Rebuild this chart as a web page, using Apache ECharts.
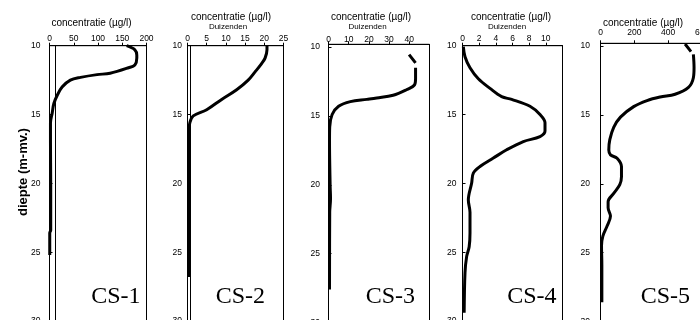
<!DOCTYPE html>
<html>
<head>
<meta charset="utf-8">
<script src="https://cdn.jsdelivr.net/npm/echarts@6/dist/echarts.min.js"></script>
<style>html,body{margin:0;padding:0;background:#fff}#c{width:700px;height:320px}</style>
</head>
<body>
<div id="c"></div>
<script>
// ---- data ----
const panelNames = ['CS-1', 'CS-2', 'CS-3', 'CS-4', 'CS-5'];
const xMax = [200, 25, 50, 12, 600];
const xStep = [50, 5, 10, 2, 200];
const yTicks = [10, 15, 20, 25, 30];
const axisTitle = 'concentratie (µg/l)';
const unitNote = 'Duizenden';
const depthTitle = 'diepte (m-mv.)';

const depth1 = [10.0, 10.3, 10.7, 10.9, 11.4, 11.6, 12.0, 12.1, 12.3, 12.5, 13.0, 13.6, 14.2, 14.9, 15.6, 17.0, 20.0, 23.4, 23.6, 25.2];
const conc1  = [159, 176, 180, 180, 176, 163, 125, 98, 64, 43, 26, 16, 9, 5.5, 2, 2, 2.5, 2.5, 0.5, 0.5];

const depth2 = [10.0, 10.3, 10.9, 11.3, 11.9, 12.5, 13.2, 13.9, 14.65, 15.1, 15.6, 16.3, 20.0, 26.8];
const conc2  = [20.7, 20.7, 20.2, 19.3, 17.6, 15.8, 12.8, 8.9, 5.0, 1.5, 0.6, 0.3, 0.4, 0.4];

const depth3 = [10.55, 11.15, null, 11.5, 12.3, 12.75, 13.1, 13.5, 13.7, 13.8, 13.96, 14.3, 14.9, 15.8, 16.8, 20.0, 21.0, 22.0, 27.6];
const conc3  = [39.9, 43.1, null, 43.1, 43.1, 42.6, 38.6, 32, 23.9, 19, 10.8, 5, 1.8, 0.6, 0.5, 0.8, 1.0, 0.6, 0.5];

const depth4 = [10.07, 10.8, 11.6, 12.4, 13.1, 13.7, 13.9, 14.4, 15.0, 15.6, 16.2, 16.6, 16.96, 17.56, 18.16, 18.77, 19.25, 19.97, 21.2, 22.1, 23.6, 24.6, 25.3, 26.5, 29.4];
const conc4  = [0.1, 0.3, 0.9, 1.9, 3.3, 4.7, 5.9, 8.1, 9.3, 9.9, 9.9, 9.3, 7.3, 5.3, 3.7, 2.1, 1.3, 1.1, 0.7, 0.9, 0.9, 0.8, 0.5, 0.3, 0.2];

const depth5 = [9.85, 10.4, null, 10.6, 11.56, 12.3, 13.0, 13.5, 13.7, 13.96, 14.4, 15.16, 15.9, 16.8, 17.55, 17.9, 18.15, 18.75, 19.5, 20.07, 20.7, 21.3, 21.75, 22.35, 23.07, 23.8, 24.5, 25.9, 28.6];
const conc5  = [500, 535, null, 549, 553, 549, 520, 441, 353, 275, 196, 118, 78, 55, 49, 59, 98, 124, 124, 114, 78, 45, 45, 59, 39, 14, 6, 8, 8];

const refLine = [12.3, 0.65, null, null, null];

const depths = [depth1, depth2, depth3, depth4, depth5];
const concs = [conc1, conc2, conc3, conc4, conc5];

// ---- layout ----
const gl = [49.5, 187.5, 328.5, 462.5, 600.5];
const gw = [97, 96, 101, 100, 101.5];
const gt = [45.7, 45.7, 44.3, 45.7, 43.3];
const yMin = [10, 10, 9.8, 10, 9.8];
const pxPerUnit = 13.77;
const yLabMargin = [9, 5.5, 8.5, 6, 10.5];
const xLabMargin = [3, 3, 0.5, 3, 6];
const titleX = [91.5, 231, 371, 511, 643];
const titleY = [23, 17, 17, 17, 23];
const noteX = [null, 228, 367.5, 507, null];
const csRight = [140.5, 265, 415, 556.5, 690];

const font = 'Liberation Sans';
const grids = [], xAxes = [], yAxes = [], series = [], graphics = [];
for (let i = 0; i < 5; i++) {
  const h = (30 - yMin[i]) * pxPerUnit;
  grids.push({left: gl[i], top: gt[i], width: gw[i], height: h, outerBoundsMode: 'none', containLabel: false,
    show: true, borderColor: '#000', borderWidth: 1, backgroundColor: 'transparent'});
  xAxes.push({
    type: 'value', gridIndex: i, position: 'top', min: 0, max: xMax[i], interval: xStep[i],
    splitLine: {show: false},
    axisLine: {show: true, lineStyle: {color: '#000', width: 1}},
    axisTick: {show: true, inside: false, length: 3, lineStyle: {color: '#000'}},
    axisLabel: {fontSize: 8.5, fontFamily: font, color: '#000', margin: xLabMargin[i], hideOverlap: false,
      showMaxLabel: (i === 2 || i === 3) ? false : true}
  });
  const yax = {
    type: 'value', gridIndex: i, inverse: true, min: yMin[i], max: 30,
    splitLine: {show: false},
    axisLine: {show: true, lineStyle: {color: '#000', width: 1}},
    axisTick: {show: true, inside: true, length: 3, lineStyle: {color: '#000'}},
    axisLabel: {fontSize: 8.5, fontFamily: font, color: '#000', margin: yLabMargin[i], showMinLabel: true, showMaxLabel: true}
  };
  if (yMin[i] === 10) { yax.interval = 5; }
  else { yax.axisLabel.customValues = yTicks; yax.axisTick.customValues = yTicks; }
  yAxes.push(yax);
  const data = depths[i].map((d, k) => (d === null ? ['-', '-'] : [concs[i][k], d]));
  const s = {
    type: 'line', xAxisIndex: i, yAxisIndex: i, data: data, showSymbol: false, symbol: 'none',
    smooth: 0.35, connectNulls: false, clip: false,
    lineStyle: {color: '#000', width: 3}, animation: false
  };
  if (refLine[i] !== null) {
    s.markLine = {silent: true, symbol: 'none', label: {show: false}, animation: false,
      lineStyle: {color: '#000', width: 1, type: 'solid'}, data: [{xAxis: refLine[i]}]};
  }
  series.push(s);
  graphics.push({type: 'text', x: titleX[i], y: titleY[i], style: {text: axisTitle, font: '10px "' + font + '"', fill: '#000', textAlign: 'center', textVerticalAlign: 'middle'}});
  if (noteX[i] !== null) {
    graphics.push({type: 'text', x: noteX[i], y: 26.5, style: {text: unitNote, font: '8px "' + font + '"', fill: '#000', textAlign: 'center', textVerticalAlign: 'middle'}});
  }
  graphics.push({type: 'text', x: csRight[i], y: 297, style: {text: panelNames[i], font: '24px "Liberation Serif"', fill: '#000', textAlign: 'right', textVerticalAlign: 'middle'}});
}
graphics.push({type: 'text', x: 23, y: 172, rotation: Math.PI / 2, style: {text: depthTitle, font: 'bold 13px "' + font + '"', fill: '#000', textAlign: 'center', textVerticalAlign: 'middle'}});

const chart = echarts.init(document.getElementById('c'), null, {renderer: 'canvas'});
chart.setOption({
  backgroundColor: '#fff',
  animation: false,
  grid: grids, xAxis: xAxes, yAxis: yAxes, series: series, graphic: graphics
});
</script>
</body>
</html>
